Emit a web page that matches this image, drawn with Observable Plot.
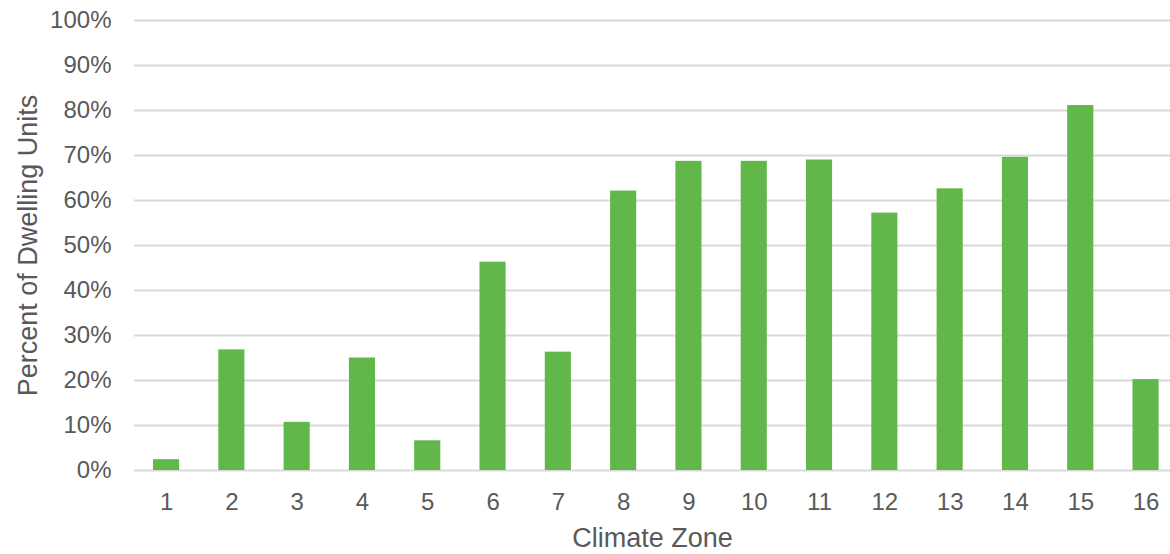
<!DOCTYPE html>
<html>
<head>
<meta charset="utf-8">
<script src="https://cdn.jsdelivr.net/npm/d3@7"></script>
<script src="https://cdn.jsdelivr.net/npm/@observablehq/plot@0.6"></script>
<style>
  html, body { margin: 0; padding: 0; background: #fff; overflow: hidden; }
  #chart svg { display: block; }
</style>
</head>
<body>
<div id="chart"></div>
<script>
const zones = ["1","2","3","4","5","6","7","8","9","10","11","12","13","14","15","16"];
const percents = [2.4, 26.8, 10.7, 25.0, 6.6, 46.3, 26.3, 62.1, 68.7, 68.7, 69.0, 57.2, 62.6, 69.6, 81.1, 20.2];
const yTicks = [0, 10, 20, 30, 40, 50, 60, 70, 80, 90, 100];

const data = zones.map((z, i) => ({zone: z, value: percents[i]}));

const chart = Plot.plot({
  width: 1170,
  height: 554,
  marginLeft: 134,
  marginRight: 0,
  marginTop: 20,
  marginBottom: 84,
  style: {fontFamily: "Liberation Sans, Arial, sans-serif", fontSize: "24px", color: "#595959", background: "#fff", overflow: "hidden"},
  x: {domain: zones, range: [133.4, 1178.2], round: false, paddingInner: 0.6, paddingOuter: 0.3, label: null},
  y: {domain: [0, 100], label: null},
  marks: [
    Plot.gridY(yTicks, {stroke: "#d9d9d9", strokeOpacity: 1, strokeWidth: 2}),
    Plot.barY(data, {x: "zone", y: "value", fill: "#62b74b"}),
    Plot.axisY(yTicks, {tickSize: 0, tickPadding: 23, tickFormat: d => d + "%", fontSize: 24, fill: "#595959", label: null}),
    Plot.axisX({tickSize: 0, tickPadding: 22, fontSize: 24, fill: "#595959", label: null}),
    Plot.text(["Climate Zone"], {frameAnchor: "bottom", dy: 68, lineAnchor: "middle", fontSize: 27, fill: "#595959"}),
    Plot.text(["Percent of Dwelling Units"], {frameAnchor: "left", dx: -106, rotate: -90, textAnchor: "middle", lineAnchor: "middle", fontSize: 27, fill: "#595959"})
  ]
});
document.getElementById("chart").appendChild(chart);
</script>
</body>
</html>
